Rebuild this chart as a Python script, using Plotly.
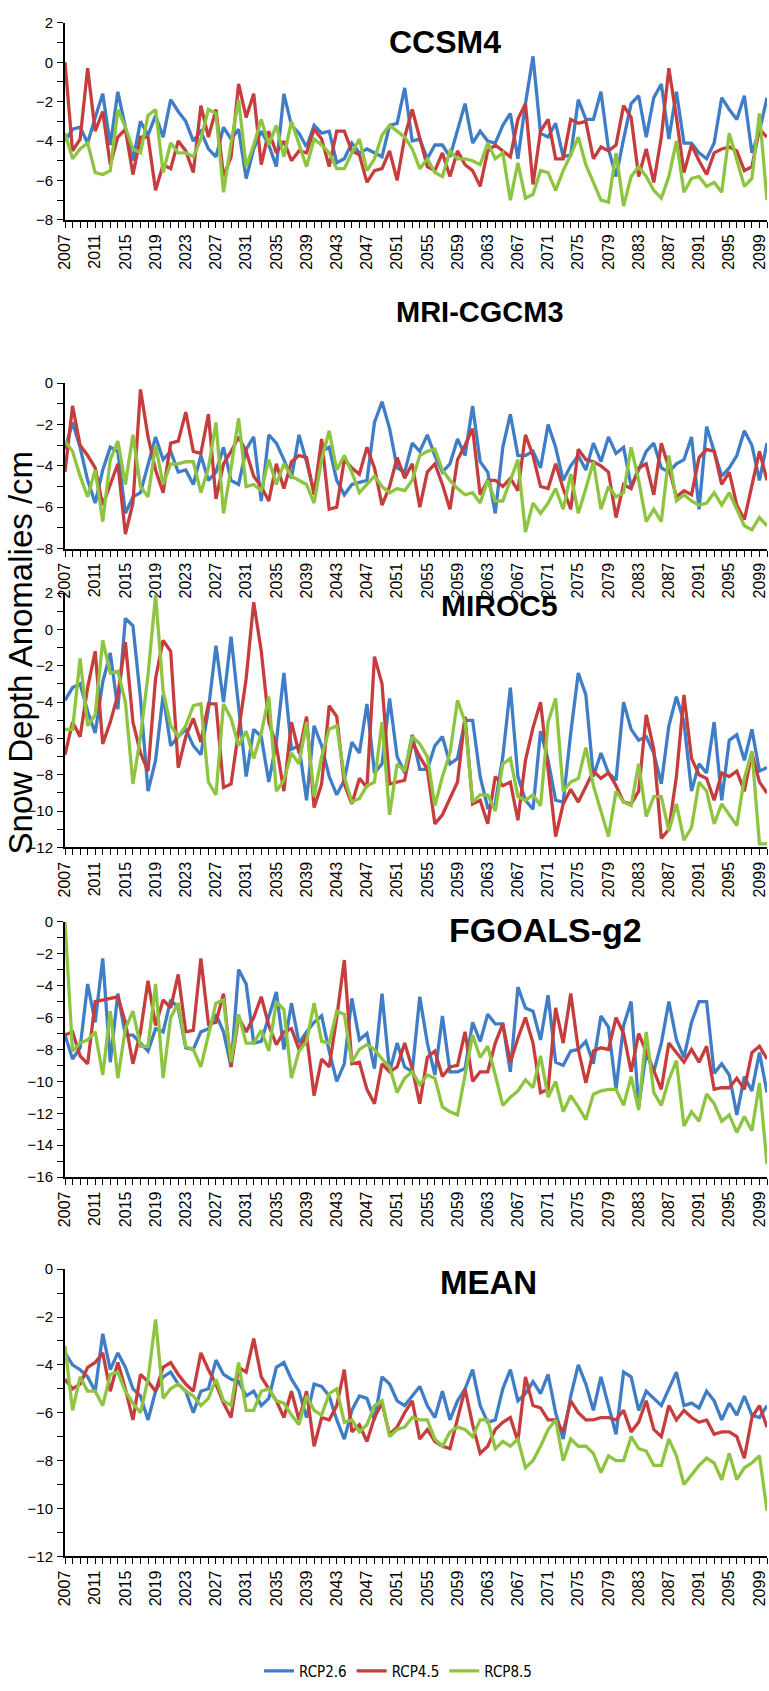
import plotly.graph_objects as go

years = list(range(2007, 2101))
series_names = ["RCP2.6", "RCP4.5", "RCP8.5"]
panel_names = ["CCSM4", "MRI-CGCM3", "MIROC5", "FGOALS-g2", "MEAN"]

ccsm4_rcp26 = [-4.0, -3.4, -3.3, -4.1, -2.8, -1.6, -4.2, -1.5, -3.3, -5.0,
               -3.0, -3.7, -2.7, -3.8, -1.9, -2.5, -3.0, -4.0, -3.5, -4.4,
               -4.8, -3.3, -3.9, -3.4, -5.9, -4.4, -3.5, -4.2, -5.3, -1.6,
               -3.2, -3.6, -4.3, -3.2, -3.6, -3.5, -5.1, -4.9, -4.1, -4.6,
               -4.4, -4.6, -4.8, -3.2, -3.1, -1.3, -4.0, -3.9, -4.9, -4.2,
               -4.2, -4.8, -3.5, -2.1, -4.1, -3.5, -4.0, -4.1, -3.2, -2.6,
               -4.9, -2.1, 0.3, -3.6, -3.8, -3.1, -4.8, -4.7, -1.9, -2.9,
               -2.9, -1.5, -4.4, -5.8, -3.9, -2.1, -1.7, -3.8, -1.8, -1.1,
               -3.9, -1.5, -4.1, -4.1, -4.6, -4.9, -4.1, -1.8, -2.4, -2.9,
               -1.7, -4.6, -3.5, -1.8]
ccsm4_rcp45 = [0.0, -4.5, -3.9, -0.3, -3.5, -2.5, -5.2, -3.8, -3.4, -5.7,
               -3.8, -3.8, -6.5, -5.2, -5.4, -4.0, -4.5, -5.6, -2.2, -3.8,
               -2.4, -5.8, -4.8, -1.1, -2.8, -1.6, -5.2, -3.5, -4.6, -4.0,
               -5.0, -4.5, -4.6, -3.4, -3.9, -5.3, -3.5, -3.5, -4.5, -4.7,
               -6.1, -5.5, -5.4, -4.5, -6.0, -3.8, -2.4, -3.9, -5.3, -5.5,
               -4.6, -5.8, -4.5, -5.2, -5.5, -6.3, -4.5, -4.2, -4.5, -4.8,
               -2.9, -2.1, -6.2, -3.5, -2.9, -4.9, -4.9, -2.9, -3.1, -3.0,
               -4.9, -4.3, -4.5, -4.2, -2.2, -2.8, -5.8, -4.4, -6.1, -3.8,
               -0.3, -2.8, -5.6, -4.2, -5.0, -5.7, -4.6, -4.4, -4.3, -4.5,
               -5.5, -5.3, -3.4, -3.8]
ccsm4_rcp85 = [-3.6, -4.9, -4.4, -4.1, -5.6, -5.7, -5.5, -2.4, -3.3, -4.4,
               -4.6, -2.7, -2.4, -5.6, -4.1, -4.6, -4.6, -4.8, -3.9, -2.4,
               -2.6, -6.6, -4.1, -1.9, -5.3, -4.2, -2.9, -4.2, -3.2, -4.8,
               -3.0, -4.1, -5.3, -3.9, -4.2, -4.6, -5.4, -5.4, -4.6, -3.9,
               -5.5, -4.9, -3.7, -3.2, -3.5, -3.8, -4.4, -5.4, -4.9, -5.6,
               -5.8, -4.5, -4.9, -4.9, -5.0, -5.2, -4.1, -4.9, -4.6, -7.0,
               -5.1, -6.9, -6.7, -5.5, -5.6, -6.5, -5.5, -4.7, -3.8, -5.2,
               -6.1, -7.0, -7.1, -4.6, -7.3, -5.8, -5.3, -5.8, -6.5, -6.9,
               -5.8, -4.0, -6.6, -5.9, -5.8, -6.3, -6.1, -6.6, -3.6, -4.9,
               -6.3, -5.9, -2.6, -7.0]

mri_rcp26 = [-3.2, -1.9, -3.1, -4.7, -5.8, -4.2, -3.1, -3.3, -6.3, -5.5,
             -5.3, -3.9, -2.6, -3.7, -3.3, -4.3, -4.2, -4.9, -3.5, -4.7,
             -4.3, -3.1, -4.7, -4.9, -3.2, -2.6, -5.7, -2.5, -2.9, -3.7,
             -4.6, -2.5, -3.8, -5.3, -3.3, -3.1, -4.7, -5.4, -4.9, -4.8,
             -4.7, -1.9, -0.9, -2.2, -4.1, -4.3, -2.9, -3.3, -2.5, -3.5,
             -4.3, -3.9, -2.7, -3.5, -1.1, -3.8, -4.3, -6.3, -3.1, -1.5,
             -3.5, -3.5, -3.3, -4.1, -2.0, -3.1, -4.7, -4.0, -3.5, -4.2,
             -2.9, -3.8, -2.6, -3.4, -3.1, -5.0, -4.2, -3.3, -2.9, -4.1,
             -4.3, -3.9, -3.7, -2.6, -6.1, -2.1, -3.3, -4.5, -4.1, -3.5,
             -2.3, -3.0, -4.7, -2.9]
mri_rcp45 = [-4.3, -1.1, -3.0, -3.5, -4.1, -5.9, -4.9, -3.9, -7.3, -5.8,
             -0.3, -2.6, -4.2, -5.3, -2.9, -2.8, -1.4, -3.3, -3.4, -1.5,
             -5.6, -3.9, -3.3, -2.6, -3.3, -4.5, -5.0, -5.7, -3.9, -5.1,
             -3.8, -3.5, -3.6, -5.4, -2.7, -6.1, -6.0, -3.7, -4.1, -4.4,
             -3.1, -4.1, -5.9, -5.0, -3.6, -4.6, -3.9, -6.0, -4.3, -3.9,
             -4.9, -6.1, -3.7, -3.0, -2.2, -5.4, -4.7, -4.7, -5.0, -4.6,
             -5.2, -2.5, -3.5, -5.0, -5.1, -3.9, -5.1, -6.1, -3.2, -3.7,
             -3.8, -4.0, -4.3, -6.5, -4.9, -5.1, -4.1, -3.9, -5.4, -2.9,
             -4.1, -5.5, -5.2, -5.4, -3.6, -3.2, -3.3, -4.9, -4.3, -5.9,
             -6.6, -5.0, -3.3, -4.7]
mri_rcp85 = [-2.8, -3.3, -4.5, -5.5, -4.2, -6.7, -3.7, -2.8, -4.9, -2.5,
             -5.0, -5.5, -3.0, -4.9, -3.9, -3.9, -3.8, -3.8, -5.3, -4.1,
             -1.9, -6.3, -4.1, -1.7, -5.0, -4.9, -5.2, -3.7, -4.9, -3.9,
             -4.5, -4.7, -4.9, -5.8, -3.7, -2.3, -4.2, -3.5, -4.3, -5.3,
             -4.9, -4.5, -5.0, -5.3, -5.1, -5.2, -4.7, -3.5, -3.3, -3.2,
             -4.2, -4.7, -5.1, -5.4, -5.3, -5.8, -4.7, -5.7, -5.7, -4.7,
             -3.7, -7.2, -5.8, -6.3, -5.8, -5.1, -6.1, -4.4, -6.3, -5.1,
             -3.8, -6.1, -5.0, -5.5, -5.3, -3.1, -4.7, -6.7, -6.1, -6.7,
             -3.5, -5.7, -5.4, -5.7, -5.9, -5.8, -5.3, -5.9, -5.3, -6.1,
             -6.9, -7.1, -6.5, -6.9]

miroc5_rcp26 = [-3.9, -3.2, -3.0, -4.5, -5.7, -2.9, -1.3, -4.4, 0.6, 0.2,
                -3.8, -8.9, -7.2, -3.6, -6.4, -5.9, -5.5, -6.4, -6.9, -4.4,
                -0.9, -4.0, -0.4, -4.2, -8.1, -5.5, -5.9, -8.4, -6.2, -2.4,
                -6.6, -6.4, -9.4, -5.3, -6.4, -8.1, -9.1, -8.3, -6.2, -6.8,
                -4.1, -7.9, -7.4, -3.8, -7.0, -7.9, -5.8, -7.7, -7.7, -6.4,
                -5.9, -7.4, -7.1, -5.0, -5.0, -8.1, -9.8, -9.6, -7.0, -3.2,
                -8.1, -9.4, -9.9, -5.6, -7.2, -9.4, -9.5, -5.7, -2.4, -3.6,
                -8.1, -6.8, -7.9, -8.3, -4.0, -5.5, -6.1, -5.9, -6.8, -8.5,
                -5.3, -3.7, -5.1, -8.9, -7.4, -7.9, -5.1, -9.4, -6.1, -5.8,
                -7.2, -5.5, -7.8, -7.6]
miroc5_rcp45 = [-6.9, -5.1, -5.9, -3.2, -1.2, -6.3, -5.1, -3.6, -0.7, -5.1,
                -6.8, -7.8, -2.7, -0.6, -1.2, -7.6, -5.9, -4.9, -6.2, -4.1,
                -4.1, -8.7, -8.5, -5.5, -2.7, 1.5, -1.2, -5.1, -6.4, -8.9,
                -5.1, -6.8, -4.8, -9.8, -8.5, -4.2, -4.8, -8.5, -9.6, -8.2,
                -8.7, -1.5, -3.0, -8.5, -8.4, -8.3, -6.2, -7.0, -7.7, -10.7,
                -10.2, -9.3, -8.4, -4.8, -9.6, -9.4, -10.7, -8.1, -8.6, -8.4,
                -10.5, -7.2, -5.4, -4.0, -7.8, -11.4, -9.6, -8.8, -9.5, -8.6,
                -7.8, -8.2, -7.9, -8.6, -9.5, -9.6, -8.9, -4.7, -6.6, -11.5,
                -11.0, -8.1, -3.6, -7.1, -8.0, -8.2, -9.4, -7.9, -8.1, -7.8,
                -8.9, -6.8, -8.4, -9.0]
miroc5_rcp85 = [-5.5, -5.5, -1.6, -5.3, -4.7, -0.6, -2.4, -2.3, -4.0, -8.5,
                -5.9, -2.5, 1.9, -3.4, -5.3, -5.9, -5.3, -4.2, -4.1, -8.4,
                -9.1, -4.1, -4.9, -6.4, -5.6, -7.1, -5.7, -3.7, -8.9, -8.3,
                -6.8, -7.4, -5.1, -9.2, -7.0, -5.5, -5.3, -8.1, -9.5, -9.3,
                -8.6, -8.4, -5.1, -10.2, -7.4, -7.8, -5.9, -6.3, -7.0, -9.7,
                -8.1, -6.8, -3.9, -5.1, -9.5, -9.1, -9.1, -10.0, -7.4, -7.1,
                -9.2, -9.4, -9.1, -9.7, -5.1, -3.8, -8.9, -8.4, -8.2, -6.5,
                -8.6, -10.0, -11.4, -8.9, -9.5, -9.7, -7.4, -10.3, -9.2, -9.2,
                -11.1, -9.6, -11.6, -10.9, -8.4, -8.9, -10.7, -9.6, -10.2, -10.8,
                -8.2, -6.7, -11.8, -11.8]

fgoals_rcp26 = [-7.1, -8.6, -7.9, -3.9, -6.3, -2.3, -8.8, -4.5, -7.1, -7.1,
                -7.6, -8.1, -6.7, -6.9, -4.9, -5.4, -7.9, -8.0, -6.9, -6.7,
                -5.8, -6.9, -9.1, -3.0, -3.9, -7.6, -7.5, -6.0, -4.4, -8.0,
                -5.1, -7.6, -6.9, -6.3, -5.9, -8.1, -10.0, -8.9, -4.8, -7.4,
                -7.0, -9.2, -4.5, -9.4, -7.6, -9.1, -9.4, -4.7, -7.6, -9.6,
                -5.9, -9.4, -9.4, -9.2, -6.3, -7.5, -5.8, -6.4, -6.4, -9.4,
                -4.1, -5.4, -5.6, -7.4, -4.6, -8.8, -9.0, -8.1, -8.0, -7.5,
                -8.9, -5.9, -6.6, -10.5, -6.5, -5.0, -11.6, -8.2, -9.4, -7.6,
                -5.0, -7.4, -8.5, -6.3, -5.0, -5.0, -9.5, -8.9, -9.6, -12.1,
                -9.7, -10.6, -8.2, -10.7]
fgoals_rcp45 = [-7.1, -6.9, -8.4, -8.9, -5.0, -4.9, -4.8, -4.7, -6.3, -8.9,
                -6.9, -3.7, -6.5, -4.9, -5.4, -3.3, -6.9, -6.8, -2.3, -6.4,
                -6.3, -4.5, -9.1, -6.0, -6.9, -6.0, -4.7, -6.5, -7.7, -6.9,
                -6.7, -8.0, -7.1, -10.9, -8.6, -9.1, -6.0, -2.4, -8.9, -8.8,
                -10.5, -11.4, -8.9, -9.4, -9.1, -7.6, -9.2, -11.4, -8.5, -8.1,
                -9.7, -9.1, -9.0, -6.9, -10.0, -9.4, -9.4, -7.6, -6.4, -8.8,
                -7.3, -6.0, -7.6, -10.7, -10.5, -5.4, -7.6, -4.5, -8.0, -10.1,
                -8.1, -7.9, -8.0, -6.0, -7.0, -9.4, -7.0, -8.2, -9.4, -10.5,
                -7.6, -8.2, -8.8, -8.0, -8.8, -7.8, -10.5, -10.4, -10.4, -9.8,
                -10.5, -8.2, -7.8, -8.6]
fgoals_rcp85 = [0.0, -8.1, -7.6, -7.4, -6.9, -9.6, -5.6, -9.8, -6.7, -5.6,
                -7.8, -7.8, -3.9, -9.8, -6.0, -5.1, -7.8, -8.0, -9.1, -7.1,
                -5.1, -4.9, -8.8, -5.8, -7.6, -7.6, -6.8, -8.1, -5.0, -5.5,
                -9.8, -8.1, -7.5, -5.1, -7.5, -7.6, -5.6, -5.8, -8.8, -8.0,
                -7.7, -8.0, -8.6, -9.1, -10.7, -9.8, -9.4, -10.2, -9.6, -9.8,
                -11.6, -11.9, -12.1, -9.6, -7.1, -8.5, -7.8, -9.6, -11.5, -11.0,
                -10.6, -9.9, -10.4, -8.4, -11.0, -10.0, -11.9, -10.9, -11.6, -12.4,
                -10.8, -10.6, -10.5, -10.5, -11.5, -9.7, -11.8, -6.9, -10.7, -11.5,
                -9.9, -8.7, -12.8, -11.9, -12.5, -10.8, -11.4, -12.5, -12.1, -13.2,
                -12.2, -13.1, -10.1, -15.2]

mean_rcp26 = [-3.5, -4.0, -4.2, -4.5, -5.1, -2.7, -4.2, -3.5, -4.1, -5.0,
              -5.3, -6.3, -5.1, -4.5, -4.3, -4.8, -5.1, -6.0, -5.1, -5.0,
              -3.8, -4.4, -4.6, -4.7, -5.3, -5.1, -5.7, -5.4, -4.1, -3.9,
              -4.6, -5.1, -6.2, -4.8, -4.9, -5.3, -6.3, -7.1, -5.9, -5.3,
              -5.4, -6.3, -4.5, -4.8, -5.5, -5.7, -5.3, -4.9, -5.7, -6.2,
              -5.1, -6.3, -5.5, -5.0, -4.2, -5.7, -6.4, -6.3, -5.0, -4.2,
              -5.5, -5.2, -4.7, -5.2, -4.4, -6.0, -7.1, -5.3, -4.0, -4.8,
              -5.9, -4.5, -5.7, -6.9, -4.3, -4.5, -5.9, -5.1, -5.4, -5.7,
              -5.0, -4.3, -5.7, -5.6, -5.8, -5.1, -5.5, -6.3, -5.6, -6.1,
              -5.3, -6.1, -6.2, -5.7]
mean_rcp45 = [-4.6, -5.0, -4.8, -4.1, -3.9, -3.5, -5.1, -3.9, -5.0, -6.3,
              -4.4, -4.7, -5.1, -4.1, -3.9, -4.4, -4.8, -5.1, -3.5, -4.2,
              -4.8, -5.6, -6.2, -4.1, -4.3, -2.9, -4.5, -5.0, -5.5, -6.2,
              -5.1, -6.3, -5.1, -7.4, -6.2, -6.3, -5.7, -4.2, -6.8, -6.5,
              -7.2, -6.2, -5.6, -6.9, -6.6, -6.0, -5.5, -7.1, -6.7, -7.2,
              -7.4, -7.5, -6.3, -5.0, -6.5, -7.7, -7.4, -6.7, -6.4, -6.2,
              -7.2, -4.5, -5.7, -5.8, -6.3, -6.3, -6.8, -5.5, -6.0, -6.3,
              -6.3, -6.2, -6.2, -6.3, -5.9, -6.8, -6.4, -5.5, -6.7, -7.0,
              -5.7, -6.3, -5.9, -6.2, -6.4, -6.3, -6.9, -6.8, -6.8, -7.0,
              -7.9, -6.2, -5.7, -6.6]
mean_rcp85 = [-3.2, -5.9, -4.5, -5.1, -5.1, -5.7, -4.4, -4.3, -5.1, -5.6,
              -6.0, -4.6, -2.1, -5.4, -5.0, -4.8, -5.1, -5.3, -5.7, -5.4,
              -4.6, -5.5, -5.7, -3.9, -5.9, -5.9, -5.1, -5.0, -5.5, -5.6,
              -6.1, -6.5, -5.3, -5.9, -6.1, -5.2, -5.0, -6.4, -6.3, -6.8,
              -6.5, -5.7, -5.5, -7.0, -6.7, -6.6, -6.2, -6.3, -6.3, -7.1,
              -7.4, -6.8, -6.6, -6.7, -7.0, -6.3, -6.3, -7.5, -7.2, -7.4,
              -7.1, -8.3, -8.0, -7.4, -6.7, -6.3, -8.0, -7.1, -7.4, -7.4,
              -7.7, -8.5, -7.8, -8.0, -8.0, -7.0, -7.5, -7.6, -8.2, -8.2,
              -7.1, -7.8, -9.0, -8.6, -8.2, -7.9, -8.1, -8.8, -7.7, -8.8,
              -8.3, -8.1, -7.8, -10.1]

panels = [
    (ccsm4_rcp26, ccsm4_rcp45, ccsm4_rcp85),
    (mri_rcp26, mri_rcp45, mri_rcp85),
    (miroc5_rcp26, miroc5_rcp45, miroc5_rcp85),
    (fgoals_rcp26, fgoals_rcp45, fgoals_rcp85),
    (mean_rcp26, mean_rcp45, mean_rcp85),
]

# ---- layout / style ----
W, H = 769, 1691
L, R = 65, 2
colors = ["#3F7DC6", "#C63D3D", "#8DC540"]
y_ranges = [[-8, 2], [-8, 0], [-12, 2], [-16, 0], [-12, 0]]
tops = [14, 378, 590, 922, 1273]
bottoms = [213, 545, 847, 1180, 1563]
title_pos = [(445, 33), (480, 306), (499, 603), (545, 930), (488, 1286)]
title_sizes = [32, 29, 30, 34, 33]
FONT = "Liberation Sans, Arial, sans-serif"


def px_x(px):
    return (px - L) / (W - L - R)


def px_y(py):
    return 1 - py / H


fig = go.Figure()
layout = dict(
    width=W, height=H,
    margin=dict(l=L, r=R, t=0, b=0),
    plot_bgcolor="white", paper_bgcolor="white",
    font=dict(family=FONT, color="black"),
    showlegend=True,
)

for i, (vals, yr) in enumerate(zip(panels, y_ranges)):
    n = i + 1
    xs = "x" if n == 1 else f"x{n}"
    ys = "y" if n == 1 else f"y{n}"
    for j, v in enumerate(vals):
        fig.add_trace(go.Scatter(
            x=years[:len(v)], y=v, mode="lines", name=series_names[j],
            line=dict(color=colors[j], width=3.3),
            xaxis=xs, yaxis=ys, showlegend=(i == 0),
        ))
    layout[f"xaxis{n}" if n > 1 else "xaxis"] = dict(
        domain=[0, 1], anchor=ys, range=[2007, 2100],
        tickmode="linear", tick0=2007, dtick=4,
        ticks="outside", ticklen=6, tickwidth=1, tickcolor="black",
        tickangle=-90, tickfont=dict(size=16, family=FONT, color="black"),
        showline=True, linecolor="black", linewidth=2,
        showgrid=False, zeroline=False,
        minor=dict(tickmode="linear", tick0=2007, dtick=1, ticks="outside",
                   ticklen=6, tickwidth=1, tickcolor="black", showgrid=False),
    )
    layout[f"yaxis{n}" if n > 1 else "yaxis"] = dict(
        domain=[px_y(bottoms[i]), px_y(tops[i])], anchor=xs, range=yr,
        tickmode="linear", tick0=0, dtick=2,
        ticks="outside", ticklen=6, tickwidth=1, tickcolor="black",
        tickfont=dict(size=15, family=FONT, color="black"),
        ticklabelstandoff=1,
        showline=True, linecolor="black", linewidth=2,
        showgrid=False, zeroline=False,
        minor=dict(tickmode="linear", tick0=0, dtick=1, ticks="outside",
                   ticklen=6, tickwidth=1, tickcolor="black", showgrid=False),
    )

annotations = []
for name, (tx, ty), fs in zip(panel_names, title_pos, title_sizes):
    annotations.append(dict(
        text=f"<b>{name}</b>", x=px_x(tx), y=px_y(ty), xref="paper", yref="paper",
        xanchor="center", yanchor="middle", showarrow=False,
        font=dict(size=fs, family=FONT, color="black"),
    ))
annotations.append(dict(
    text="Snow Depth Anomalies /cm", x=px_x(20), y=px_y(650),
    xref="paper", yref="paper", xanchor="center", yanchor="middle",
    textangle=-90, showarrow=False, borderpad=0,
    font=dict(size=33, family=FONT, color="black"),
))
layout["annotations"] = annotations
layout["legend"] = dict(
    orientation="h", x=px_x(398), y=px_y(1679), xanchor="center", yanchor="middle",
    font=dict(size=15, family="Liberation Sans Narrow, Arial Narrow, DejaVu Sans Condensed, sans-serif",
              color="black"),
    itemwidth=30, bgcolor="rgba(0,0,0,0)",
)

fig.update_layout(**layout)
fig.write_html("out.html")
